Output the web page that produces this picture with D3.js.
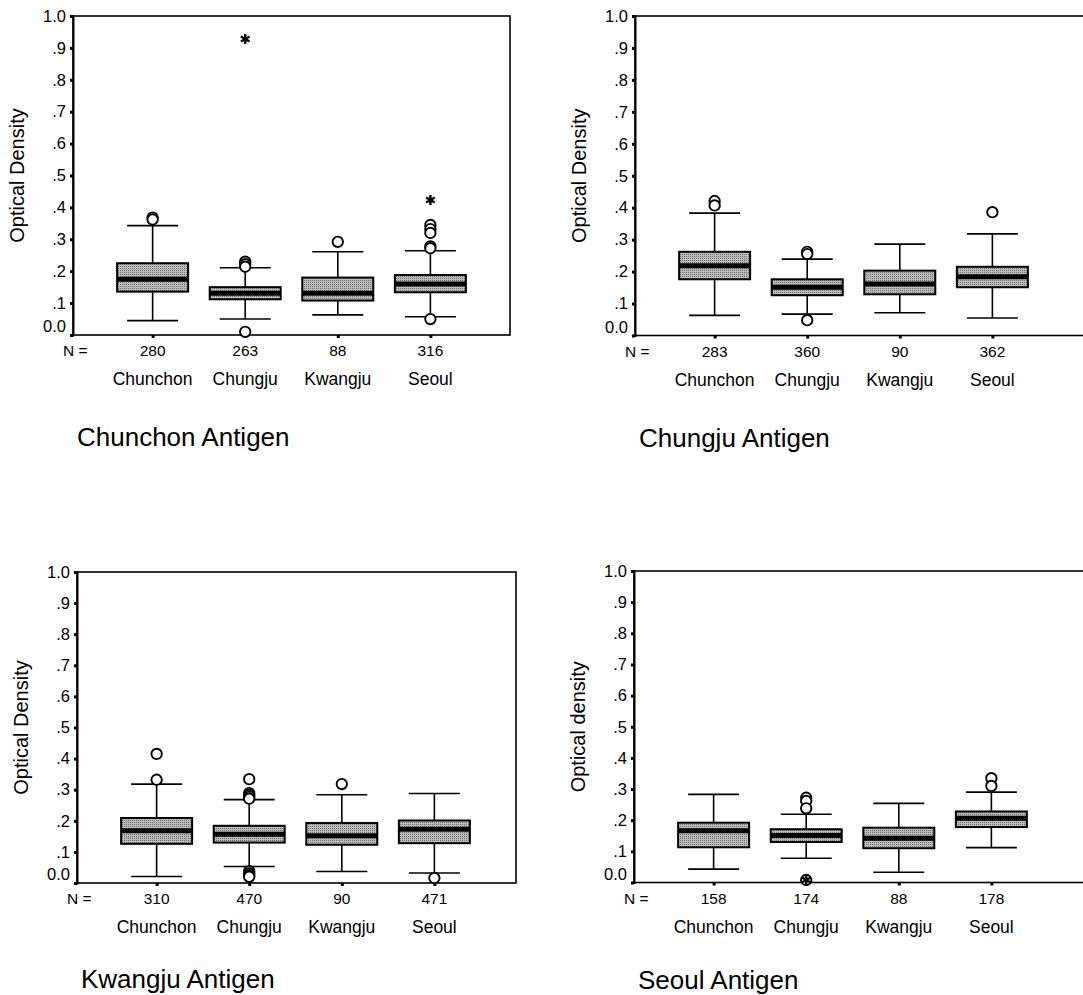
<!DOCTYPE html>
<html>
<head>
<meta charset="utf-8">
<script src="https://cdn.jsdelivr.net/npm/d3@7"></script>
<style>
  html, body { margin: 0; padding: 0; background: #fff; }
  svg { display: block; }
  text { font-family: "Liberation Sans", Arial, Helvetica, sans-serif; fill: #000; }
</style>
</head>
<body>
<svg id="chart" width="1083" height="995"></svg>
<script>
// ---------------- data ----------------
const categories = ["Chunchon", "Chungju", "Kwangju", "Seoul"];
const antigens = ["Chunchon Antigen", "Chungju Antigen", "Kwangju Antigen", "Seoul Antigen"];
const yTitles = ["Optical Density", "Optical Density", "Optical Density", "Optical density"];
const yTickValues = [0, 0.1, 0.2, 0.3, 0.4, 0.5, 0.6, 0.7, 0.8, 0.9, 1.0];
const yTickLabels = ["0.0", ".1", ".2", ".3", ".4", ".5", ".6", ".7", ".8", ".9", "1.0"];
const nCounts = [
  [280, 263, 88, 316],
  [283, 360, 90, 362],
  [310, 470, 90, 471],
  [158, 174, 88, 178]
];
const whiskerLow = [
  [0.045, 0.050, 0.063, 0.057],
  [0.063, 0.067, 0.071, 0.055],
  [0.021, 0.053, 0.037, 0.032],
  [0.043, 0.078, 0.033, 0.112]
];
const q1 = [
  [0.136, 0.112, 0.108, 0.134],
  [0.176, 0.126, 0.129, 0.151],
  [0.126, 0.130, 0.123, 0.128],
  [0.113, 0.130, 0.110, 0.178]
];
const median = [
  [0.175, 0.131, 0.131, 0.160],
  [0.218, 0.151, 0.161, 0.184],
  [0.168, 0.157, 0.152, 0.173],
  [0.166, 0.151, 0.142, 0.206]
];
const q3 = [
  [0.225, 0.150, 0.180, 0.188],
  [0.262, 0.176, 0.203, 0.215],
  [0.209, 0.184, 0.193, 0.201],
  [0.192, 0.171, 0.176, 0.228]
];
const whiskerHigh = [
  [0.343, 0.211, 0.261, 0.264],
  [0.383, 0.239, 0.286, 0.318],
  [0.318, 0.268, 0.284, 0.288],
  [0.283, 0.219, 0.254, 0.290]
];
const outliers = [
  [[0.368, 0.362], [0.230, 0.222, 0.214, 0.010], [0.292], [0.345, 0.332, 0.320, 0.278, 0.272, 0.050]],
  [[0.421, 0.407], [0.262, 0.255, 0.048], [], [0.386]],
  [[0.415, 0.332], [0.334, 0.289, 0.283, 0.277, 0.271, 0.038, 0.031, 0.025, 0.020], [0.318], [0.016]],
  [[], [0.272, 0.262, 0.238, 0.008], [], [0.335, 0.310]]
];
const extremes = [
  [[], [0.928], [], [0.423]],
  [[], [], [], []],
  [[], [], [], []],
  [[], [0.008], [], []]
];

// ---------------- layout ----------------
const layout = [
  { left: 73,  top: 16,  bottom: 335,   right: 510,  titleDy: 102 },
  { left: 635, top: 16,  bottom: 335.5, right: 1100, titleDy: 102 },
  { left: 77,  top: 572, bottom: 883,   right: 516,  titleDy: 96 },
  { left: 634, top: 571, bottom: 882.5, right: 1100, titleDy: 97 }
];
const plotWidth = 437;
const boxW = 71, capW = 51;

const svg = d3.select("#chart");
svg.append("rect").attr("width", 1083).attr("height", 995).attr("fill", "#fff");

// stipple fill for boxes
const defs = svg.append("defs");
const pat = defs.append("pattern").attr("id", "stipple")
  .attr("patternUnits", "userSpaceOnUse").attr("width", 2).attr("height", 2);
pat.append("rect").attr("width", 2).attr("height", 2).attr("fill", "#bababa");
pat.append("rect").attr("width", 1).attr("height", 1).attr("fill", "#747474");

layout.forEach((L, p) => {
  const g = svg.append("g");
  const x = d3.scalePoint().domain(categories).range([L.left, L.left + plotWidth]).padding(0.86);
  const y = d3.scaleLinear().domain([0, 1]).range([L.bottom, L.top]);

  // frame
  g.append("rect")
    .attr("x", L.left).attr("y", L.top)
    .attr("width", L.right - L.left).attr("height", L.bottom - L.top)
    .attr("fill", "none").attr("stroke", "#000").attr("stroke-width", 1.6);

  // y axis
  const yAxis = d3.axisLeft(y).tickValues(yTickValues)
    .tickFormat((d, i) => yTickLabels[i]).tickSize(3).tickPadding(4);
  const ya = g.append("g").attr("transform", `translate(${L.left},0)`).call(yAxis);
  ya.select(".domain").attr("stroke", "#000").attr("stroke-width", 2);
  ya.selectAll(".tick line").attr("stroke", "#000").attr("stroke-width", 3);
  ya.selectAll(".tick text").style("font-size", "16.5px").attr("fill", "#000");
  ya.selectAll(".tick").filter(d => d === 0).select("text").attr("dy", "-0.2em");

  // x axis (ticks only)
  const xAxis = d3.axisBottom(x).tickFormat("").tickSize(3);
  const xa = g.append("g").attr("transform", `translate(0,${L.bottom})`).call(xAxis);
  xa.select(".domain").remove();
  xa.selectAll(".tick line").attr("stroke", "#000").attr("stroke-width", 3);

  // N row
  g.append("text").attr("x", L.left - 10).attr("y", L.bottom + 16).attr("dy", "0.35em")
    .style("font-size", "15.5px").text("N =");
  g.selectAll(".nlab").data(categories).enter().append("text")
    .attr("x", d => x(d)).attr("y", L.bottom + 16).attr("dy", "0.35em")
    .attr("text-anchor", "middle").style("font-size", "15.5px")
    .text((d, i) => nCounts[p][i]);

  // category labels
  g.selectAll(".clab").data(categories).enter().append("text")
    .attr("x", d => x(d)).attr("y", L.bottom + 44).attr("dy", "0.35em")
    .attr("text-anchor", "middle").style("font-size", "17.5px")
    .text(d => d);

  // panel title
  g.append("text").attr("x", L.left + 4).attr("y", L.bottom + L.titleDy).attr("dy", "0.35em")
    .style("font-size", "26px").text(antigens[p]);

  // y title
  const cy = (L.top + L.bottom) / 2;
  g.append("text").attr("transform", `translate(${L.left - 56},${cy}) rotate(-90)`)
    .attr("text-anchor", "middle").attr("dy", "0.35em")
    .style("font-size", "20px").text(yTitles[p]);

  // boxes
  categories.forEach((c, i) => {
    const cx = x(c);
    const bg = g.append("g");
    bg.append("line").attr("x1", cx).attr("x2", cx)
      .attr("y1", y(whiskerHigh[p][i])).attr("y2", y(whiskerLow[p][i]))
      .attr("stroke", "#000").attr("stroke-width", 1.6);
    [whiskerHigh[p][i], whiskerLow[p][i]].forEach(v => {
      bg.append("line").attr("x1", cx - capW / 2).attr("x2", cx + capW / 2)
        .attr("y1", y(v)).attr("y2", y(v))
        .attr("stroke", "#000").attr("stroke-width", 1.6);
    });
    bg.append("rect").attr("x", cx - boxW / 2).attr("y", y(q3[p][i]))
      .attr("width", boxW).attr("height", y(q1[p][i]) - y(q3[p][i]))
      .attr("fill", "url(#stipple)").attr("stroke", "#000").attr("stroke-width", 2);
    bg.append("line").attr("x1", cx - boxW / 2).attr("x2", cx + boxW / 2)
      .attr("y1", y(median[p][i])).attr("y2", y(median[p][i]))
      .attr("stroke", "#000").attr("stroke-width", 5);
    outliers[p][i].forEach(v => {
      bg.append("circle").attr("cx", cx).attr("cy", y(v)).attr("r", 5.2)
        .attr("fill", "#fff").attr("stroke", "#000").attr("stroke-width", 1.9);
    });
    extremes[p][i].forEach(v => {
      bg.append("path").attr("d", d3.symbol(d3.symbolAsterisk, 70)())
        .attr("transform", `translate(${cx},${y(v)})`)
        .attr("fill", "none").attr("stroke", "#000").attr("stroke-width", 2.4);
    });
  });
});
</script>
</body>
</html>
